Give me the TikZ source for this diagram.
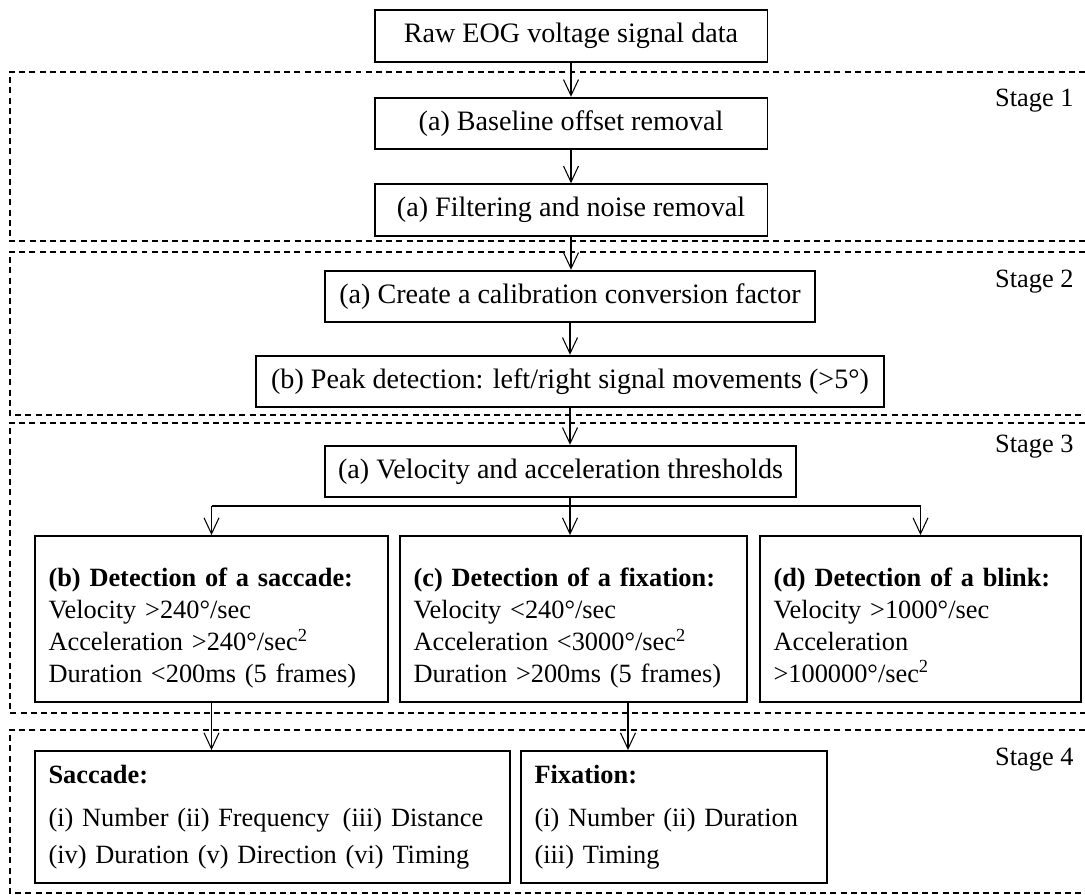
\documentclass[tikz,border=0pt]{standalone}
\usepackage{fontspec}
\setmainfont{Liberation Serif}
\usetikzlibrary{arrows.meta}

\tikzset{
	procbox/.style={draw, line width=1.1pt, minimum height=1.03cm, inner sep=0pt, align=center,
		font=\fontsize{16}{18.1}\selectfont},
	detbox/.style={draw, line width=1.1pt, minimum height=3.32cm, inner xsep=0.27cm, align=left},
	resbox/.style={draw, line width=1.1pt, minimum height=2.64cm, inner xsep=0.27cm, align=left},
	stagebox/.style={line width=1pt, dash pattern=on 3.4pt off 2.4pt},
	flow/.style={line width=0.6pt, -{Straight Barb[length=0.32cm, width=0.3cm, line width=0.6pt]}},
}

\newcommand{\topstrut}{\rule{0pt}{23pt}}

\begin{document}
\begin{tikzpicture}[x=0.02cm, y=-0.02cm, font=\fontsize{15}{18.1}\selectfont]

	% ---- page

	\useasboundingbox (0,0) rectangle (1085,895);

	% ---- stage frames

	\draw[stagebox] (1085,72) -| (10,241) -- (1085,241);
	\draw[stagebox] (1085,252) -| (10,415) -- (1085,415);
	\draw[stagebox] (1085,423) -| (10,713) -- (1085,713);
	\draw[stagebox] (1085,730) -| (10,893) -- (1085,893);

	\node[anchor=base west] (stageone)   at (989,107) {Stage 1};
	\node[anchor=base west] (stagetwo)   at (989,287) {Stage 2};
	\node[anchor=base west] (stagethree) at (989,452) {Stage 3};
	\node[anchor=base west] (stagefour)  at (989,765) {Stage 4};

	% ---- stage 1

	\node[procbox, minimum width=7.86cm] (raw)  at (571,36)    {Raw EOG voltage signal data};
	\node[procbox, minimum width=7.86cm] (base) at (571,123.5) {(a) Baseline offset removal};
	\node[procbox, minimum width=7.86cm] (filt) at (571,210)   {(a) Filtering and noise removal};

	% ---- stage 2

	\node[procbox, minimum width=9.8cm]  (calib) at (570,296.5) {(a) Create a calibration conversion factor};
	\node[procbox, minimum width=12.56cm] (peak) at (570,381.5) {(b) Peak detection: left/right signal movements (>5°)};

	% ---- stage 3

	\node[procbox, minimum width=9.42cm] (velo) at (560.5,471.5) {(a) Velocity and acceleration thresholds};

	\node[detbox, text width=6.52cm] (sacc) at (211.5,619)
		{\topstrut\textbf{(b) Detection of a saccade:}\\
		 Velocity >240°/sec\\
		 Acceleration >240°/sec\textsuperscript{2}\\
		 Duration <200ms (5 frames)\strut};
	\node[detbox, text width=6.40cm] (fixd) at (573.5,619)
		{\topstrut\textbf{(c) Detection of a fixation:}\\
		 Velocity <240°/sec\\
		 Acceleration <3000°/sec\textsuperscript{2}\\
		 Duration >200ms (5 frames)\strut};
	\node[detbox, text width=5.88cm] (blink) at (920.5,619)
		{\topstrut\textbf{(d) Detection of a blink:}\\
		 Velocity >1000°/sec\\
		 Acceleration\\
		 >100000°/sec\textsuperscript{2}\strut};

	% ---- stage 4

	\node[resbox, text width=8.96cm] (saccres) at (272.5,817)
		{\strut\textbf{Saccade:}\\[6pt]
		 (i) Number (ii) Frequency\enspace(iii) Distance\\[3pt]
		 (iv) Duration (v) Direction (vi) Timing\strut};
	\node[resbox, text width=5.58cm] (fixres) at (674,817)
		{\strut\textbf{Fixation:}\\[6pt]
		 (i) Number (ii) Duration\\[3pt]
		 (iii) Timing\strut};

	% ---- connectors

	\draw[flow] (raw) -- (base);
	\draw[flow] (base) -- (filt);
	\draw[flow] (filt.south) -- (filt.south |- calib.north);
	\draw[flow] (calib) -- (peak);
	\draw[flow] (peak.south) -- (peak.south |- velo.north);

	\coordinate (split) at (570,506);
	\draw[line width=0.6pt] (peak.south |- velo.south) -- (split);
	\draw[line width=1.1pt] (sacc.north |- split) -- (blink.north |- split);
	\draw[flow] (split) -- (split |- fixd.north);
	\draw[flow] (sacc.north |- split) -- (sacc.north);
	\draw[flow] (blink.north |- split) -- (blink.north);

	\draw[flow] (sacc.south) -- (sacc.south |- saccres.north);
	\draw[flow] (fixd.south) ++(54.5,0) coordinate (fixout) -- (fixout |- fixres.north);

\end{tikzpicture}
\end{document}
